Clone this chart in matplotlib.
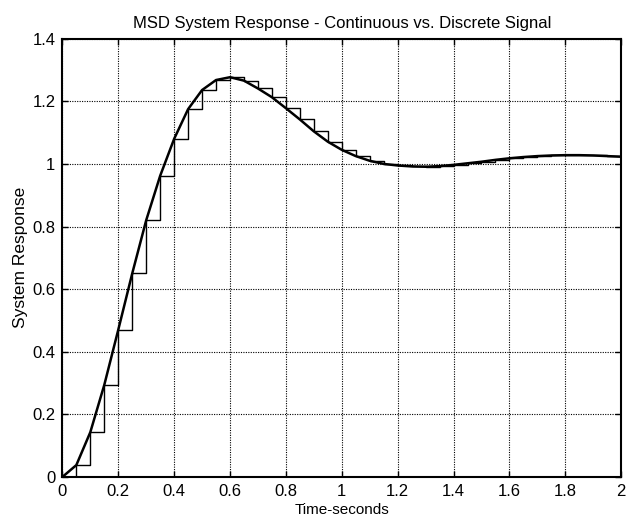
import matplotlib
matplotlib.use("Agg")
import matplotlib.pyplot as plt
import numpy as np

plt.rcParams['font.family'] = ['Liberation Sans', 'DejaVu Sans']

t_samples = [0.00, 0.05, 0.10, 0.15, 0.20, 0.25, 0.30, 0.35, 0.40, 0.45,
             0.50, 0.55, 0.60, 0.65, 0.70, 0.75, 0.80, 0.85, 0.90, 0.95,
             1.00, 1.05, 1.10, 1.15, 1.20, 1.25, 1.30, 1.35, 1.40, 1.45,
             1.50, 1.55, 1.60, 1.65, 1.70, 1.75, 1.80, 1.85, 1.90, 1.95, 2.00]
y_samples = [0.000, 0.038, 0.143, 0.294, 0.470, 0.650, 0.820, 0.962, 1.080, 1.175,
             1.236, 1.268, 1.277, 1.266, 1.241, 1.213, 1.178, 1.142, 1.104, 1.071,
             1.045, 1.025, 1.010, 1.000, 0.995, 0.992, 0.991, 0.993, 0.997, 1.002,
             1.007, 1.013, 1.018, 1.022, 1.025, 1.027, 1.028, 1.028, 1.027, 1.025, 1.023]

x_ticks = [0, 0.2, 0.4, 0.6, 0.8, 1.0, 1.2, 1.4, 1.6, 1.8, 2.0]
x_ticklabels = ['0', '0.2', '0.4', '0.6', '0.8', '1', '1.2', '1.4', '1.6', '1.8', '2']
y_ticks = [0, 0.2, 0.4, 0.6, 0.8, 1.0, 1.2, 1.4]
y_ticklabels = ['0', '0.2', '0.4', '0.6', '0.8', '1', '1.2', '1.4']

fig = plt.figure(figsize=(6.3, 5.23), dpi=100)
ax = fig.add_axes([0.099, 0.088, 0.887, 0.838])

ax.plot(t_samples, y_samples, color='black', lw=1.8, zorder=3)
ax.step(t_samples, y_samples, where='post', color='black', lw=1.0, zorder=3)

ax.set_xlim(0, 2)
ax.set_ylim(0, 1.4)
ax.set_xticks(x_ticks)
ax.set_xticklabels(x_ticklabels)
ax.set_yticks(y_ticks)
ax.set_yticklabels(y_ticklabels)
ax.tick_params(direction='in', length=4, width=1, labelsize=12, pad=5,
               top=True, right=True)
ax.grid(True, color='black', linestyle=(0, (1, 1.2)), lw=0.8)
for s in ax.spines.values():
    s.set_linewidth(1.5)

ax.set_title('MSD System Response - Continuous vs. Discrete Signal', fontsize=12, pad=8)
ax.set_xlabel('Time-seconds', fontsize=11, labelpad=3)
ax.set_ylabel('System Response', fontsize=12.5, labelpad=3)

fig.savefig('out.png', dpi=100)
